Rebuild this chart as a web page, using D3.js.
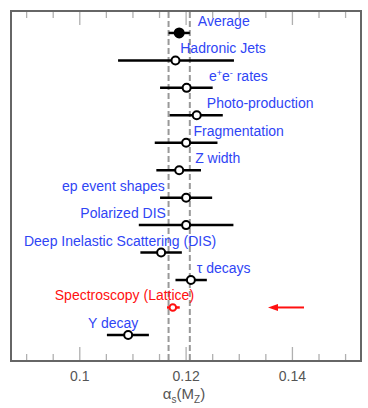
<!DOCTYPE html>
<html>
<head>
<meta charset="utf-8">
<script src="https://cdn.jsdelivr.net/npm/d3@7"></script>
<style>
  body { margin: 0; background: #fff; }
  text { font-family: "Liberation Sans", Arial, sans-serif; }
</style>
</head>
<body>
<div id="chart"></div>
<script>
// measurements of alpha_s(M_Z), top to bottom
const names = ["Average", "Hadronic Jets", "e+e- rates", "Photo-production", "Fragmentation",
  "Z width", "ep event shapes", "Polarized DIS", "Deep Inelastic Scattering (DIS)",
  "τ decays", "Spectroscopy (Lattice)", "Υ decay"];
const central = [0.1187, 0.1180, 0.1201, 0.1220, 0.1200, 0.1187, 0.1200, 0.1200, 0.1153, 0.1209, 0.1175, 0.1091];
const lowErr  = [0.1167, 0.1072, 0.1151, 0.1169, 0.1141, 0.1144, 0.1151, 0.1111, 0.1114, 0.1180, 0.1164, 0.1051];
const highErr = [0.1207, 0.1290, 0.1250, 0.1269, 0.1259, 0.1228, 0.1249, 0.1289, 0.1192, 0.1239, 0.1188, 0.1130];
// where each label sits (in alpha_s units) and how it is anchored
const labelAt = [0.1222, 0.1189, 0.1243, 0.1239, 0.1214, 0.1217, 0.1160, 0.1162, 0.0895, 0.1220, 0.1215, 0.1110];
const labelAnchor = ["start", "start", "start", "start", "start", "start", "end", "end", "start", "start", "end", "end"];
const xTicks = [0.1, 0.12, 0.14];

var width = 368;
var height = 408;
var blue = "#2f45f5";
var red = "#ff1010";

var svg = d3.select("#chart").append("svg")
  .attr("width", width)
  .attr("height", height);

var x = d3.scaleLinear().domain([0.08706, 0.1529]).range([11, 361]);
var y = d3.scaleLinear().domain([-0.8, 11.95]).range([11, 361]);

// minor ticks every 0.005, longer at the labelled values
var minor = d3.range(0.09, 0.1526, 0.005);
function isMajor(v) { return xTicks.some(function(t) { return Math.abs(t - v) < 1e-6; }); }

svg.append("g").selectAll("line.bt")
  .data(minor).enter().append("line")
  .attr("x1", function(d) { return x(d); })
  .attr("x2", function(d) { return x(d); })
  .attr("y1", 361)
  .attr("y2", function(d) { return isMajor(d) ? 347 : 354; })
  .attr("stroke", "#b0b0b0").attr("stroke-width", 1.3);

svg.append("g").selectAll("line.tt")
  .data(minor).enter().append("line")
  .attr("x1", function(d) { return x(d); })
  .attr("x2", function(d) { return x(d); })
  .attr("y1", 11)
  .attr("y2", function(d) { return isMajor(d) ? 25 : 18; })
  .attr("stroke", "#b0b0b0").attr("stroke-width", 1.3);

// tick labels
svg.append("g").selectAll("text")
  .data(xTicks).enter().append("text")
  .attr("x", function(d) { return x(d); })
  .attr("y", 381)
  .attr("text-anchor", "middle")
  .attr("font-size", 14)
  .attr("fill", "#555")
  .text(function(d) { return d3.format("")(d); });

// average band (dashed)
[lowErr[0], highErr[0]].forEach(function(v) {
  svg.append("line")
    .attr("x1", x(v)).attr("x2", x(v))
    .attr("y1", 12).attr("y2", 360)
    .attr("stroke", "#999").attr("stroke-width", 2)
    .attr("stroke-dasharray", "6,3");
});

// frame
svg.append("rect")
  .attr("x", 11).attr("y", 11)
  .attr("width", 350).attr("height", 350)
  .attr("fill", "none")
  .attr("stroke", "#666").attr("stroke-width", 2);

var rows = svg.append("g").selectAll("g")
  .data(names).enter().append("g");

rows.append("line")
  .attr("x1", function(d, i) { return x(lowErr[i]); })
  .attr("x2", function(d, i) { return x(highErr[i]); })
  .attr("y1", function(d, i) { return y(i); })
  .attr("y2", function(d, i) { return y(i); })
  .attr("stroke", function(d, i) { return i == 10 ? red : "#000"; })
  .attr("stroke-width", 2.5);

rows.append("circle")
  .attr("cx", function(d, i) { return x(central[i]); })
  .attr("cy", function(d, i) { return y(i); })
  .attr("r", function(d, i) { return i == 0 ? 4.5 : (i == 10 ? 3.3 : 4); })
  .attr("fill", function(d, i) { return i == 0 ? "#000" : "#fff"; })
  .attr("stroke", function(d, i) { return i == 10 ? red : "#000"; })
  .attr("stroke-width", 2);

var labels = rows.append("text")
  .attr("x", function(d, i) { return x(labelAt[i]); })
  .attr("y", function(d, i) { return y(i) - 7; })
  .attr("text-anchor", function(d, i) { return labelAnchor[i]; })
  .attr("font-size", 14)
  .attr("fill", function(d, i) { return i == 10 ? red : blue; });

labels.each(function(d) {
  var t = d3.select(this);
  if (d == "e+e- rates") {
    t.append("tspan").text("e");
    t.append("tspan").attr("font-size", 9).attr("dy", -5).text("+");
    t.append("tspan").attr("dy", 5).text("e");
    t.append("tspan").attr("font-size", 9).attr("dy", -5).text("-");
    t.append("tspan").attr("dy", 5).text(" rates");
  } else {
    t.text(d);
  }
});

// red arrow pointing at lattice result
var ay = y(10);
svg.append("line")
  .attr("x1", 304).attr("x2", 276)
  .attr("y1", ay).attr("y2", ay)
  .attr("stroke", red).attr("stroke-width", 2);
svg.append("path")
  .attr("d", "M268," + ay + "L278," + (ay - 3.5) + "L278," + (ay + 3.5) + "Z")
  .attr("fill", red);

// axis title
var title = svg.append("text")
  .attr("x", 184).attr("y", 399)
  .attr("text-anchor", "middle")
  .attr("font-size", 15)
  .attr("fill", "#555");
title.append("tspan").text("α");
title.append("tspan").attr("font-size", 10).attr("dy", 4).text("s");
title.append("tspan").attr("dy", -4).text("(M");
title.append("tspan").attr("font-size", 10).attr("dy", 4).text("Z");
title.append("tspan").attr("dy", -4).text(")");
</script>
</body>
</html>
